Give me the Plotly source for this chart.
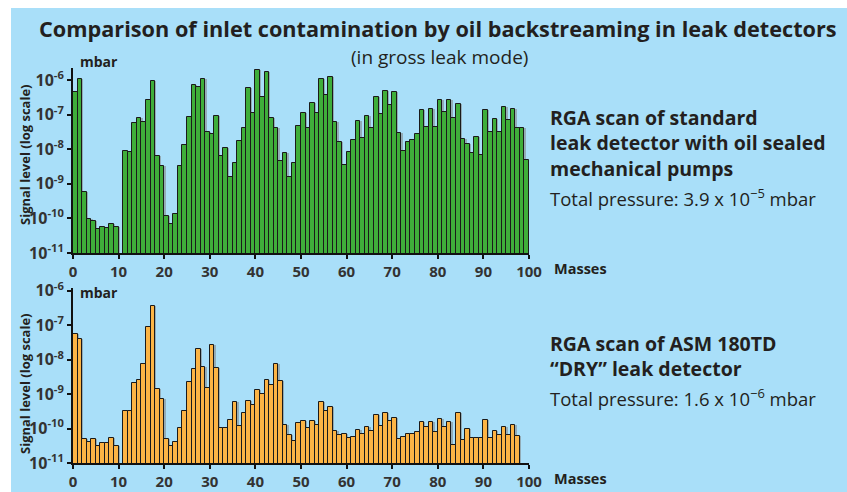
import plotly.graph_objects as go
from plotly.subplots import make_subplots

W, H = 847, 492

masses = list(range(100))

# Standard leak detector with oil sealed mechanical pumps (mbar); None = no peak
signal_standard = [
    4.4e-7, 1.1e-6, 5.8e-10, 9.5e-11, 8.3e-11, 5.1e-11, 5.6e-11, 5.4e-11, 6.9e-11, 5.7e-11,
    None, 8.7e-9, 8.3e-9, 5.6e-8, 8.2e-8, 6.1e-8, 2.7e-7, 9.4e-7, 6.6e-9, 3.3e-9,
    1.15e-10, 7.0e-11, 1.3e-10, 3.3e-9, 1.3e-8, 8.7e-8, 7.0e-7, 6.4e-7, 1.1e-6, 3.1e-8,
    2.8e-8, 9.0e-8, 6.5e-9, 1.1e-8, 1.55e-9, 4.1e-9, 1.7e-8, 4.2e-8, 5.8e-7, 1.1e-7,
    2.0e-6, 3.2e-7, 1.7e-6, 7.8e-8, 4.2e-8, 4.6e-9, 7.6e-9, 1.55e-9, 4.0e-9, 4.7e-8,
    1.14e-7, 4.2e-8, 2.2e-7, 1.14e-7, 1.05e-6, 3.6e-7, 1.2e-6, 6.1e-8, 1.6e-8, 3.5e-9,
    8.2e-9, 1.9e-8, 6.4e-8, 2.1e-8, 9.4e-8, 4.1e-8, 3.2e-7, 1.04e-7, 4.8e-7, 1.86e-7,
    4.4e-7, 3.0e-8, 9.1e-9, 1.66e-8, 1.8e-8, 2.8e-8, 1.35e-7, 4.4e-8, 1.5e-7, 4.4e-8,
    2.6e-7, 1.17e-7, 2.6e-7, 7.8e-8, 2.1e-7, 2.0e-8, 1.4e-8, 7.9e-9, 2.3e-8, 7.0e-9,
    1.4e-7, 3.1e-8, 7.5e-8, 3.1e-8, 1.7e-7, 6.9e-8, 1.5e-7, 4.2e-8, 4.2e-8, 4.9e-9,
]

# ASM 180TD "DRY" leak detector (mbar); None = no peak
signal_dry = [
    5.5e-8, 4.1e-8, 5.0e-11, 4.0e-11, 5.0e-11, 3.2e-11, 3.8e-11, 3.8e-11, 5.4e-11, 3.1e-11,
    None, 3.3e-10, 3.3e-10, 2.1e-9, 2.5e-9, 7.7e-9, 8.9e-8, 3.5e-7, 1.4e-9, 7.2e-10,
    5.1e-11, 3.2e-11, 4.1e-11, 1.03e-10, 3.3e-10, 2.2e-9, 5.5e-9, 2.1e-8, 6.2e-9, 1.5e-9,
    2.6e-8, 5.8e-9, 1.03e-10, 1.03e-10, 1.8e-10, 6.0e-10, 1.2e-10, 2.8e-10, 6.5e-10, 4.8e-10,
    1.3e-9, 1.04e-9, 2.5e-9, 1.85e-9, 7.6e-9, 2.4e-9, 1.26e-10, 6.6e-11, 4.5e-11, 1.44e-10,
    1.7e-10, 1.07e-10, 1.7e-10, 1.3e-10, 5.9e-10, 3.3e-10, 4.2e-10, 8.5e-11, 6.6e-11, 6.9e-11,
    5.2e-11, 5.7e-11, 8.9e-11, 7.0e-11, 1.1e-10, 8.5e-11, 2.4e-10, 1.2e-10, 2.9e-10, 1.7e-10,
    2.0e-10, 4.9e-11, 5.7e-11, 6.9e-11, 6.9e-11, 8.1e-11, 1.5e-10, 1.12e-10, 1.5e-10, 8.1e-11,
    1.9e-10, 1.12e-10, 1.55e-10, 3.3e-11, 2.75e-10, 4.8e-11, 9.6e-11, 5.4e-11, 5.4e-11, 5.4e-11,
    1.8e-10, 5.4e-11, 8.5e-11, 6.6e-11, 1.1e-10, 6.7e-11, 1.26e-10, 5.9e-11, None, None,
]

x_ticks = [0, 10, 20, 30, 40, 50, 60, 70, 80, 90, 100]
y_tickvals = [1e-11, 1e-10, 1e-9, 1e-8, 1e-7, 1e-6]
y_ticktext = ["10<sup>-11</sup>", "10<sup>-10</sup>", "10<sup>-9</sup>",
              "10<sup>-8</sup>", "10<sup>-7</sup>", "10<sup>-6</sup>"]

FAM = "Open Sans, sans-serif"
TXT = "#231f20"

fig = make_subplots(rows=2, cols=1)

def add_series(row, values, color):
    fig.add_trace(go.Bar(x=masses, y=values, offset=0.3, width=1,
                         marker=dict(color="rgba(130,130,130,0.55)", line=dict(width=0)),
                         hoverinfo="skip", showlegend=False), row=row, col=1)
    fig.add_trace(go.Bar(x=masses, y=values, offset=0, width=1,
                         marker=dict(color=color, line=dict(color="#1a1a1a", width=1)),
                         showlegend=False), row=row, col=1)

add_series(1, signal_standard, "#3fae3a")
add_series(2, signal_dry, "#fcb445")

xdom = [73 / W, 529 / W]
top_dom = [1 - 253 / H, 1 - 68 / H]
bot_dom = [1 - 463 / H, 1 - 288 / H]

axis_x = dict(range=[0, 100], domain=xdom, showline=True, linewidth=2, linecolor="#111",
              ticks="outside", ticklen=4, tickwidth=1.5, tickcolor="#111",
              tickvals=x_ticks, showgrid=False, zeroline=False, automargin=False,
              tickfont=dict(family=FAM, size=15, color="#333", weight="bold"))
axis_y = dict(type="log", showline=True, linewidth=2, linecolor="#111",
              ticks="outside", ticklen=4, tickwidth=1.5, tickcolor="#111",
              tickvals=y_tickvals, ticktext=y_ticktext, showgrid=False, zeroline=False,
              automargin=False,
              tickfont=dict(family=FAM, size=16, color="#333", weight="bold"))

fig.update_layout(
    width=W, height=H, margin=dict(l=0, r=0, t=0, b=0),
    paper_bgcolor="white", plot_bgcolor="rgba(0,0,0,0)",
    barmode="overlay", bargap=0,
    xaxis=dict(axis_x, anchor="y"),
    xaxis2=dict(axis_x, anchor="y2"),
    yaxis=dict(axis_y, domain=top_dom, range=[-11, -5.65], anchor="x"),
    yaxis2=dict(axis_y, domain=bot_dom, range=[-11, -5.92], anchor="x2"),
)

fig.add_shape(type="rect", xref="paper", yref="paper", x0=11 / W, x1=1, y0=0, y1=1 - 8 / H,
              fillcolor="#a9dff9", line=dict(width=0), layer="below")

def ann(text, x, y, size, bold=True, xanchor="left", angle=0, color=TXT):
    fig.add_annotation(text=text, x=x / W, y=1 - y / H, xref="paper", yref="paper",
                       xanchor=xanchor, yanchor="middle", showarrow=False, textangle=angle,
                       align="left",
                       font=dict(family=FAM, size=size, color=color,
                                 weight="bold" if bold else "normal"))

ann("Comparison of inlet contamination by oil backstreaming in leak detectors", 438, 28.5, 21.7, True, "center")
ann("(in gross leak mode)", 440, 56.5, 19, False, "center")
ann("mbar", 78, 62, 14)
ann("mbar", 78, 292, 14)
ann("Masses", 552, 268, 14.5)
ann("Masses", 552, 478, 14.5)
ann("Signal level (log scale)", 25, 155, 13, True, "center", -90)
ann("Signal level (log scale)", 25, 384, 13, True, "center", -90)

ann("RGA scan of standard<br>leak detector with oil sealed<br>mechanical pumps", 548, 143, 19.5)
ann("Total pressure: 3.9 x 10<sup>\u22125</sup> mbar", 548, 197, 18.5, False)

ann("RGA scan of ASM 180TD<br>\u201cDRY\u201d leak detector", 548, 356, 19.5)
ann("Total pressure: 1.6 x 10<sup>\u22126</sup> mbar", 548, 397, 18.5, False)

fig.write_html("out.html", config={"displayModeBar": False},
               post_script="document.body.style.margin='0';document.body.style.overflow='hidden';")
